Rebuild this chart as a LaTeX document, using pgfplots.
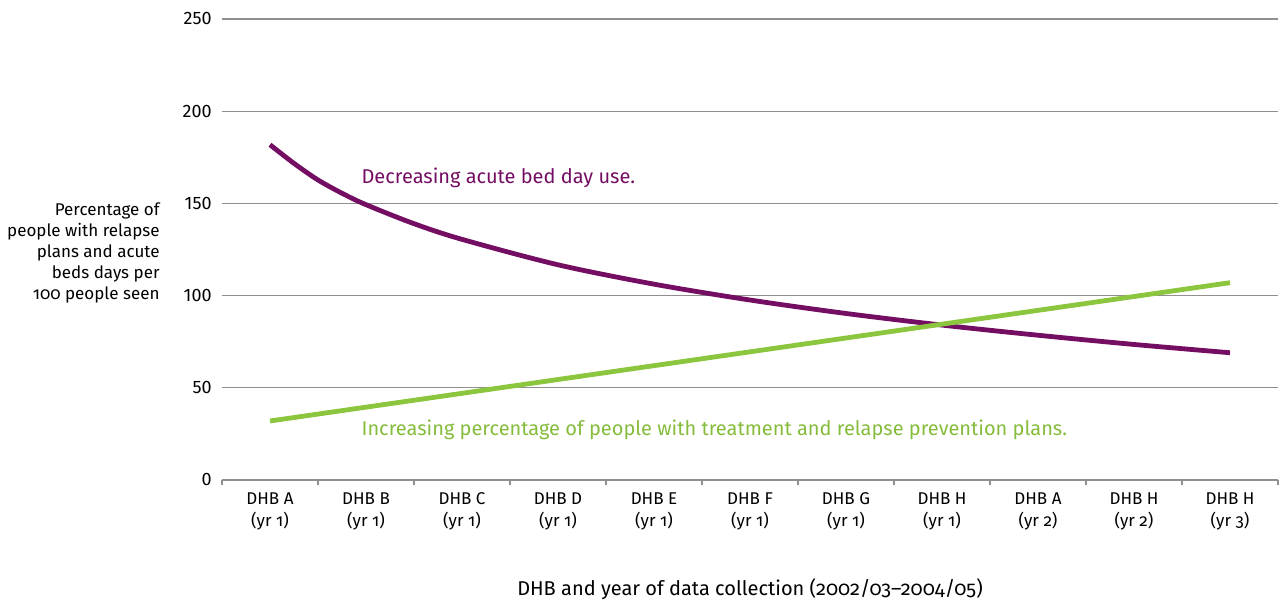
\documentclass[border=0pt]{standalone}
\usepackage{fontspec}
\setmainfont{Fira Sans}[Numbers=OldStyle]
\usepackage{pgfplots}
\pgfplotsset{compat=1.18}

\definecolor{bedpurple}{HTML}{740E63}
\definecolor{planggreen}{HTML}{8CC63F}
\definecolor{gridgray}{HTML}{8F8F8F}

\begin{document}
\begin{tikzpicture}
\useasboundingbox (0,0) rectangle (639.5pt,302pt);
\begin{axis}[
    at={(111pt,62pt)}, anchor=south west,
    scale only axis,
    width=528pt, height=230.5pt,
    xmin=-0.5, xmax=10.5,
    ymin=0, ymax=250,
    axis lines*=left,
    x axis line style={gridgray, line width=0.6pt},
    y axis line style={draw=none},
    ytick={0,50,...,250},
    ymajorgrids,
    grid style={gridgray, line width=0.6pt},
    xtick={0,...,10},
    xticklabels={{DHB A\\(yr 1)},{DHB B\\(yr 1)},{DHB C\\(yr 1)},{DHB D\\(yr 1)},
                 {DHB E\\(yr 1)},{DHB F\\(yr 1)},{DHB G\\(yr 1)},{DHB H\\(yr 1)},
                 {DHB A\\(yr 2)},{DHB H\\(yr 2)},{DHB H\\(yr 3)}},
    minor xtick={-0.5,0.5,...,10.5},
    major tick length=0pt,
    minor tick length=2.5pt,
    tick align=outside,
    minor tick style={gridgray, line width=0.6pt},
    /pgf/number format/assume math mode=true,
    xticklabel style={align=center, anchor=north, inner sep=0pt, yshift=-6pt,
        font=\fontsize{8.5}{11}\selectfont},
    yticklabel style={anchor=east, inner sep=0pt, xshift=-5pt,
        font=\fontsize{9}{10}\selectfont\addfontfeatures{Numbers=Lining}},
    clip=false,
]
% acute bed days per 100 people seen (incl. some between categories)
\addplot[bedpurple, line width=2.4pt, smooth] coordinates {
    (0,181.8) (0.25,171.7) (0.5,162.7) (0.75,155.5) (1,149.3) (1.5,139) (2,130.5)
    (3,116.7) (4,106.2) (5,97.6) (6,90.3) (7,84.0) (8,78.5) (9,73.5) (10,69.0)};
% percentage with relapse prevention plans
\addplot[planggreen, line width=2.4pt] coordinates {
    (0,32) (1,39.5) (2,47) (3,54.5) (4,62) (5,69.5)
    (6,77) (7,84.5) (8,92) (9,99.5) (10,107)};

\node[anchor=west, inner sep=0pt, text=bedpurple, font=\fontsize{10}{12}\selectfont]
    at (axis cs:0.95,164) {Decreasing acute bed day use.};
\node[anchor=west, inner sep=0pt, text=planggreen!95!black, font=\fontsize{10}{12}\selectfont]
    at (axis cs:0.95,27) {Increasing percentage of people with treatment and relapse prevention plans.};
\end{axis}

\node[anchor=east, align=right, inner sep=0pt, font=\fontsize{8.5}{10.5}\selectfont]
    at (80pt,175.5pt) {Percentage of\\people with relapse\\plans and acute\\beds days per\\100 people seen};
\node[inner sep=0pt, font=\fontsize{10}{12}\selectfont]
    at (375pt,7.5pt) {DHB and year of data collection (2002/03--2004/05)};
\end{tikzpicture}
\end{document}
